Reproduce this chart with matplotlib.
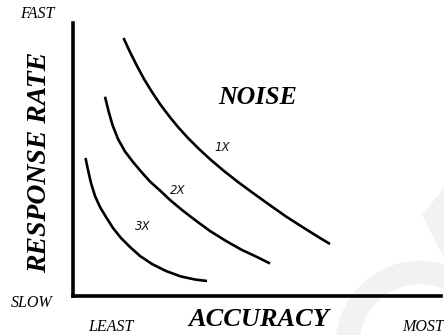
import matplotlib
matplotlib.use("Agg")
import matplotlib.pyplot as plt
from matplotlib.patches import Arc, Polygon

# Speed-accuracy trade-off curves at three noise levels (0-100 scales)
acc_1x = [13.84, 15.60, 17.50, 19.40, 21.57, 23.74, 26.19, 28.63, 31.34, 34.33,
          37.58, 41.11, 44.91, 48.98, 53.32, 57.94, 62.82, 67.16, 69.88]
rate_1x = [94.50, 89.36, 84.22, 79.45, 74.68, 70.28, 65.87, 61.83, 57.80, 53.76,
           49.72, 45.69, 41.65, 37.61, 33.39, 28.99, 24.77, 21.10, 18.90]

acc_2x = [8.82, 9.77, 10.85, 12.35, 14.25, 16.42, 18.59, 21.03, 23.74, 26.46,
          29.72, 33.24, 37.31, 41.66, 46.00, 50.07, 53.60]
rate_2x = [72.95, 67.71, 62.57, 57.43, 52.84, 48.99, 45.50, 41.83, 38.53, 35.05,
           31.38, 27.71, 23.67, 20.00, 16.70, 14.13, 11.74]

acc_3x = [3.53, 4.21, 5.02, 6.11, 7.46, 9.09, 10.99, 13.16, 15.60, 18.32,
          21.57, 25.37, 29.44, 33.24, 36.50]
rate_3x = [50.46, 46.06, 41.28, 36.51, 32.48, 28.81, 24.77, 21.10, 17.80, 14.50,
           11.56, 8.99, 6.97, 5.87, 5.32]

curve_labels = ["1X", "2X", "3X"]

W, H = 444, 335
fig = plt.figure(figsize=(W / 100, H / 100), dpi=100)
fig.patch.set_facecolor("white")

# Background overlay in pixel coordinates for free text and the faint mark
bg = fig.add_axes([0, 0, 1, 1], zorder=0)
bg.set_xlim(0, W)
bg.set_ylim(H, 0)
bg.axis("off")

grey = "#f2f2f2"
bg.add_patch(Arc((420, 345), 145, 145, theta1=180, theta2=360,
                 color=grey, lw=17, zorder=0))
bg.add_patch(Polygon([[422, 215], [444, 188], [444, 258]],
                     closed=True, color=grey, lw=0, zorder=0))

# Main axes
left, right, top, bottom = 72.5, 441, 23, 295.5
ax = fig.add_axes([left / W, (H - bottom) / H, (right - left) / W, (bottom - top) / H],
                  zorder=1)
ax.set_facecolor("none")
ax.set_xlim(0, 100)
ax.set_ylim(0, 100)
for s in ("top", "right"):
    ax.spines[s].set_visible(False)
for s in ("left", "bottom"):
    ax.spines[s].set_linewidth(2.6)
    ax.spines[s].set_color("black")
ax.set_xticks([])
ax.set_yticks([])

for xs, ys in ((acc_1x, rate_1x), (acc_2x, rate_2x), (acc_3x, rate_3x)):
    ax.plot(xs, ys, color="black", lw=1.9, solid_capstyle="butt",
            solid_joinstyle="round")

# Curve labels
label_pos = [(222.5, 147.5), (177.5, 191), (142.5, 226.5)]
for (px, py), t in zip(label_pos, curve_labels):
    bg.text(px, py, t, fontsize=8.5, style="italic", family="DejaVu Sans",
            ha="center", va="center", color="#111111")

serif = "Liberation Serif"
bg.text(257.5, 97, "NOISE", fontsize=18.5, weight="bold", style="italic",
        family=serif, ha="center", va="center")
bg.text(259, 320, "ACCURACY", fontsize=19, weight="bold", style="italic",
        family=serif, ha="center", va="center")
bg.text(40, 162, "RESPONSE RATE", fontsize=20, weight="bold", style="italic",
        family=serif, ha="center", va="center", rotation=90)
small = dict(fontsize=11.5, style="italic", family=serif, ha="center", va="center")
bg.text(37, 14, "FAST", **small)
bg.text(32, 303, "SLOW", **small)
bg.text(110.5, 327, "LEAST", **small)
bg.text(423, 327, "MOST", **small)

fig.savefig("out.png", dpi=100, facecolor="white")
